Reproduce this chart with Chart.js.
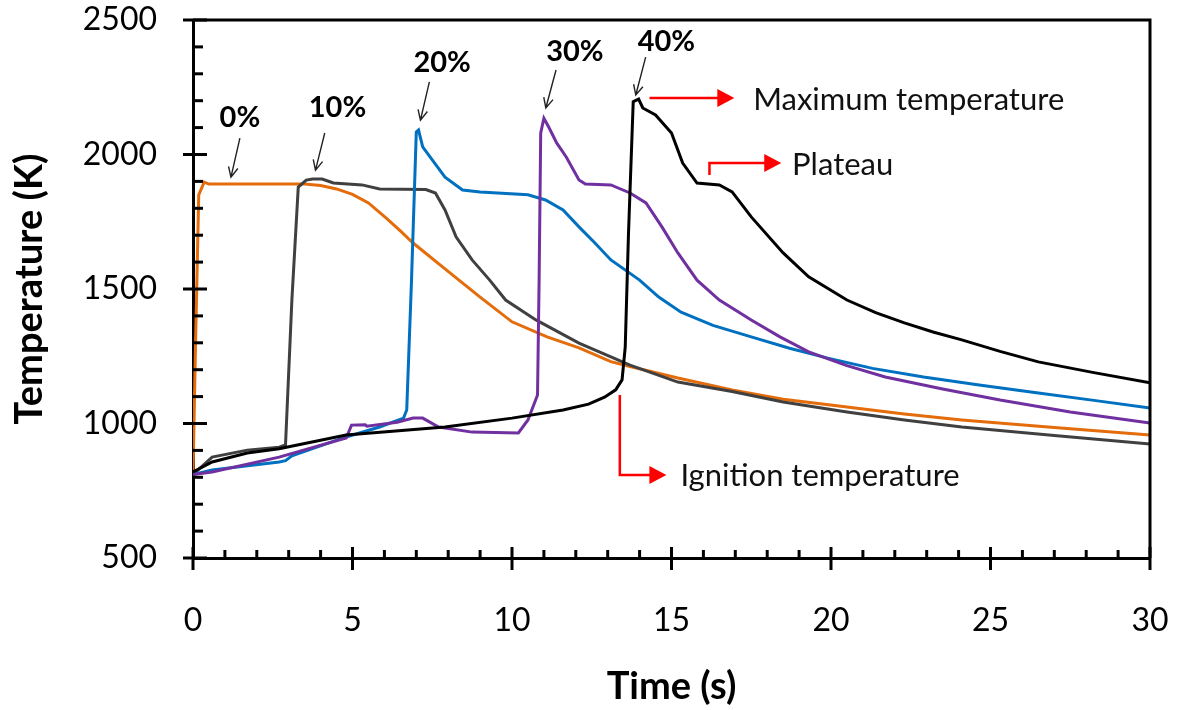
<!DOCTYPE html>
<html>
<head>
<meta charset="utf-8">
<script src="https://cdn.jsdelivr.net/npm/chart.js@4.4.1/dist/chart.umd.min.js"></script>
<style>
  html, body { margin: 0; padding: 0; background: #fff; }
  #wrap { width: 1180px; height: 710px; }
</style>
</head>
<body>
<div id="wrap"><canvas id="c" width="1180" height="710"></canvas></div>
<script>
// curves (time in s, temperature in K)
const seriesLabels = ['0%', '10%', '20%', '30%', '40%'];
const seriesColors = ['#E46C0A', '#404040', '#0070C0', '#7030A0', '#000000'];

const time0 = [0, 0.08, 0.18, 0.35, 0.5, 1, 2, 3, 3.5, 4, 4.5, 5.0, 5.5, 6.05, 6.5, 6.9, 7.9, 9, 10, 11.1, 12.1, 13.1, 13.7, 15.2, 16.9, 18.5, 20.5, 22.3, 24.1, 27, 30];
const temp0 = [810, 1300, 1850, 1897, 1890, 1890, 1890, 1890, 1890, 1885, 1872, 1852, 1820, 1764, 1716, 1671, 1575, 1470, 1378, 1322, 1281, 1230, 1212, 1169, 1125, 1090, 1061, 1035, 1013, 985, 957];

const time10 = [0, 0.6, 1.7, 2.7, 2.9, 3.1, 3.3, 3.55, 3.75, 4.05, 4.4, 5.3, 5.85, 7.3, 7.6, 7.9, 8.25, 8.75, 9.3, 9.8, 10.75, 12.1, 13.7, 15.2, 16.9, 18.5, 20.5, 22.3, 24.1, 27, 30];
const temp10 = [810, 875, 901, 912, 920, 1459, 1879, 1905, 1909, 1909, 1894, 1887, 1872, 1870, 1857, 1794, 1693, 1608, 1533, 1459, 1385, 1299, 1217, 1154, 1119, 1080, 1043, 1013, 987, 955, 924];

const time20 = [0, 0.6, 2.7, 2.9, 3.1, 4.8, 5.85, 6.6, 6.7, 6.85, 7.0, 7.07, 7.2, 7.5, 7.9, 8.45, 9, 10.5, 11.05, 11.6, 12.1, 12.6, 13.1, 14.0, 14.6, 15.3, 16.3, 17.5, 18.7, 19.9, 21.3, 22.9, 24.7, 26.5, 28.3, 30];
const temp20 = [810, 827, 857, 862, 880, 950, 987, 1020, 1050, 1533, 2084, 2091, 2028, 1980, 1916, 1868, 1861, 1850, 1831, 1794, 1731, 1671, 1608, 1533, 1470, 1414, 1365, 1322, 1280, 1243, 1205, 1173, 1142, 1113, 1085, 1058];

const time30 = [0, 0.6, 2.7, 4.8, 4.97, 5.4, 5.45, 6.4, 6.9, 7.2, 7.7, 8.75, 10.2, 10.5, 10.8, 10.85, 10.9, 11.0, 11.15, 11.4, 11.7, 12.1, 12.3, 13.1, 13.7, 14.2, 14.7, 15.2, 15.8, 16.5, 17.5, 18.4, 19.3, 20.5, 21.7, 23.5, 25.3, 27.5, 30];
const temp30 = [810, 820, 875, 946, 994, 995, 990, 1005, 1020, 1020, 987, 968, 965, 1013, 1106, 1533, 2080, 2135, 2102, 2043, 1991, 1905, 1890, 1887, 1857, 1820, 1731, 1634, 1533, 1459, 1385, 1322, 1266, 1215, 1173, 1128, 1087, 1043, 1002];

const time40 = [0, 0.6, 1.7, 2.7, 4.8, 7.9, 10, 11.6, 12.4, 12.9, 13.25, 13.45, 13.55, 13.65, 13.8, 13.97, 14.1, 14.5, 15, 15.35, 15.8, 16.5, 16.9, 17.5, 18.5, 19.3, 20.5, 21.4, 22.3, 23.2, 24.1, 25.3, 26.5, 28.2, 30];
const temp40 = [820, 857, 890, 906, 957, 987, 1020, 1050, 1072, 1098, 1125, 1162, 1285, 1700, 2196, 2206, 2173, 2147, 2080, 1968, 1894, 1887, 1861, 1768, 1634, 1545, 1459, 1412, 1374, 1340, 1311, 1268, 1229, 1190, 1151];

const allTimes = [time0, time10, time20, time30, time40];
const allTemps = [temp0, temp10, temp20, temp30, temp40];

const FONT = 'Lato, "Open Sans", sans-serif';

// annotation anchors in data units (t, T)
const pctText = [[1.47, 2136], [4.53, 2173], [7.81, 2340], [11.97, 2381], [14.84, 2418]];
const pctFrom = [[1.47, 2061], [4.13, 2080], [7.41, 2270], [11.38, 2314], [14.19, 2362]];
const pctTo = [[1.19, 1916], [3.84, 1942], [7.13, 2128], [11.06, 2173], [13.88, 2221]];

const redNotes = [
  { text: 'Maximum temperature', path: [[14.31, 2210], [16.97, 2210]], at: [17.56, 2201] },
  { text: 'Plateau', path: [[16.19, 1924], [16.19, 1968], [18.44, 1968]], at: [18.78, 1961] },
  { text: 'Ignition temperature', path: [[13.38, 1106], [13.38, 809], [14.84, 809]], at: [15.28, 805] }
];

const decorPlugin = {
  id: 'decor',
  afterDatasetsDraw(chart) {
    const { ctx, chartArea: a, scales: { x, y } } = chart;
    ctx.save();
    ctx.strokeStyle = '#000';
    ctx.lineWidth = 3;
    // frame top/right
    ctx.beginPath();
    ctx.moveTo(a.left, a.top);
    ctx.lineTo(a.right, a.top);
    ctx.lineTo(a.right, a.bottom);
    ctx.stroke();
    // y ticks
    for (let v = 500; v <= 2500; v += 100) {
      const py = y.getPixelForValue(v);
      const major = v % 500 === 0;
      ctx.beginPath();
      ctx.moveTo(major ? a.left - 10 : a.left, py);
      ctx.lineTo(major ? a.left + 14 : a.left + 10, py);
      ctx.stroke();
    }
    // x ticks
    for (let v = 0; v <= 30; v += 1) {
      const px = x.getPixelForValue(v);
      const major = v % 5 === 0;
      ctx.beginPath();
      ctx.moveTo(px, major ? a.bottom + 12 : a.bottom);
      ctx.lineTo(px, major ? a.bottom - 11 : a.bottom - 8);
      ctx.stroke();
    }

    // percentage labels and thin arrows
    ctx.fillStyle = '#000';
    ctx.font = 'bold 29px ' + FONT;
    ctx.textAlign = 'center';
    ctx.textBaseline = 'middle';
    ctx.strokeStyle = '#222';
    ctx.lineWidth = 1.4;
    seriesLabels.forEach((lab, i) => {
      ctx.fillText(lab, x.getPixelForValue(pctText[i][0]), y.getPixelForValue(pctText[i][1]));
      const x1 = x.getPixelForValue(pctFrom[i][0]), y1 = y.getPixelForValue(pctFrom[i][1]);
      const x2 = x.getPixelForValue(pctTo[i][0]), y2 = y.getPixelForValue(pctTo[i][1]);
      const ang = Math.atan2(y2 - y1, x2 - x1);
      ctx.beginPath();
      ctx.moveTo(x1, y1);
      ctx.lineTo(x2, y2);
      ctx.moveTo(x2 - 11 * Math.cos(ang - 0.45), y2 - 11 * Math.sin(ang - 0.45));
      ctx.lineTo(x2, y2);
      ctx.lineTo(x2 - 11 * Math.cos(ang + 0.45), y2 - 11 * Math.sin(ang + 0.45));
      ctx.stroke();
    });

    // red callouts
    ctx.font = '31px ' + FONT;
    ctx.textAlign = 'left';
    redNotes.forEach(n => {
      const pts = n.path.map(p => [x.getPixelForValue(p[0]), y.getPixelForValue(p[1])]);
      const tip = pts[pts.length - 1];
      ctx.strokeStyle = '#FF0000';
      ctx.fillStyle = '#FF0000';
      ctx.lineWidth = 2.5;
      ctx.beginPath();
      ctx.moveTo(pts[0][0], pts[0][1]);
      for (let k = 1; k < pts.length - 1; k++) ctx.lineTo(pts[k][0], pts[k][1]);
      ctx.lineTo(tip[0] - 14, tip[1]);
      ctx.stroke();
      ctx.beginPath();
      ctx.moveTo(tip[0], tip[1]);
      ctx.lineTo(tip[0] - 17, tip[1] - 9);
      ctx.lineTo(tip[0] - 17, tip[1] + 9);
      ctx.closePath();
      ctx.fill();
      ctx.fillStyle = '#111';
      ctx.fillText(n.text, x.getPixelForValue(n.at[0]), y.getPixelForValue(n.at[1]));
    });
    ctx.restore();
  }
};

const order = [4, 3, 2, 1, 0];

new Chart(document.getElementById('c'), {
  type: 'line',
  data: {
    datasets: seriesLabels.map((lab, i) => ({
      label: lab,
      data: allTimes[i].map((t, k) => ({ x: t, y: allTemps[i][k] })),
      borderColor: seriesColors[i],
      borderWidth: 3,
      pointRadius: 0,
      tension: 0,
      fill: false,
      order: order[i]
    }))
  },
  options: {
    responsive: false,
    animation: false,
    layout: { padding: { top: 20, right: 30, left: 0, bottom: 0 } },
    plugins: { legend: { display: false }, tooltip: { enabled: false } },
    scales: {
      x: {
        type: 'linear',
        min: 0, max: 30,
        grid: { display: false, drawTicks: false },
        border: { display: true, color: '#000', width: 3 },
        ticks: { stepSize: 5, color: '#000', padding: 43, font: { family: FONT, size: 32 }, maxRotation: 0, callback: v => String(v) },
        title: { display: true, text: 'Time (s)', color: '#000', font: { family: FONT, size: 38, weight: 'bold' }, padding: { top: 0, bottom: 0 } },
        afterFit(s) { s.height = 152; s.paddingLeft = 0; s.paddingRight = 0; }
      },
      y: {
        type: 'linear',
        min: 500, max: 2500,
        grid: { display: false, drawTicks: false },
        border: { display: true, color: '#000', width: 3 },
        ticks: { stepSize: 500, color: '#000', padding: 36, font: { family: FONT, size: 32 }, callback: v => String(v) },
        title: { display: true, text: 'Temperature (K)', color: '#000', font: { family: FONT, size: 38, weight: 'bold' }, padding: { top: 7, bottom: 0 } },
        afterFit(s) { s.width = 193; s.paddingTop = 0; s.paddingBottom = 0; }
      }
    }
  },
  plugins: [decorPlugin]
});
</script>
</body>
</html>
